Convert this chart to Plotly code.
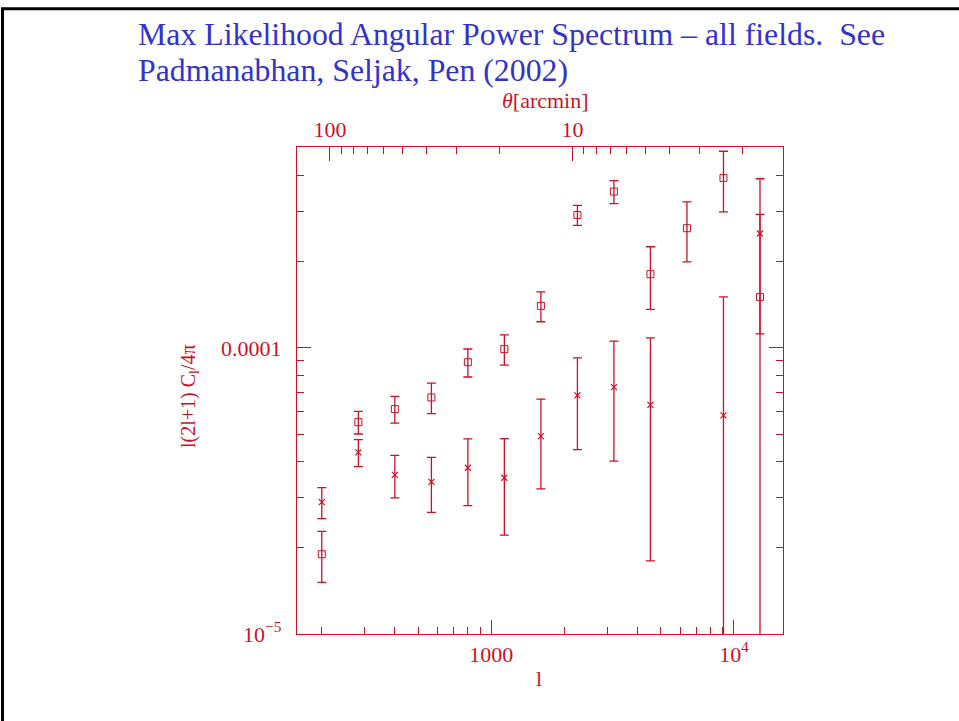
import math
import plotly.graph_objects as go

# ---- data ----
ell = [200, 283, 400, 566, 800, 1131, 1600, 2263, 3200, 4525, 6400, 9051, 12800]
sq_val = [1.90e-5, 5.50e-5, 6.11e-5, 6.71e-5, 8.91e-5, 9.90e-5, 1.402e-4,
          2.914e-4, 3.518e-4, 1.809e-4, 2.619e-4, 3.925e-4, 1.507e-4]
sq_err = [0.385e-5, 0.50e-5, 0.655e-5, 0.82e-5, 1.0e-5, 1.2e-5, 1.68e-5,
          2.34e-5, 3.25e-5, 4.47e-5, 6.2e-5, 9.4e-5, 1.42e-4]
cr_val = [2.89e-5, 4.31e-5, 3.60e-5, 3.40e-5, 3.81e-5, 3.515e-5, 4.915e-5,
          6.82e-5, 7.29e-5, 6.32e-5, None, 5.81e-5, 2.51e-4]
cr_err = [0.36e-5, 0.465e-5, 0.61e-5, 0.74e-5, 1.0e-5, 1.3e-5, 1.70e-5,
          2.41e-5, 3.27e-5, 4.52e-5, None, 9.26e-5, 1.39e-4]

x_tickvals = [1000, 10000]
x_ticktext = ["1000", "10<sup>4</sup>"]
x_minor = [200, 300, 400, 500, 600, 700, 800, 900,
           2000, 3000, 4000, 5000, 6000, 7000, 8000, 9000]
y_tickvals = [1e-5, 1e-4]
y_ticktext = ["10<sup>\u22125</sup>", "0.0001"]
y_minor = [2e-5, 3e-5, 4e-5, 5e-5, 6e-5, 7e-5, 8e-5, 9e-5,
           2e-4, 3e-4, 4e-4, 5e-4]
t_tickvals = [100, 10]
t_ticktext = ["100", "10"]
t_minor = [90, 80, 70, 60, 50, 40, 30, 20, 9, 8, 7, 6, 5, 4, 3, 2]
THETA_CONST = 21600.0  # theta[arcmin] = 21600 / l

RED = "#CC1126"
BLUE = "#3333CC"
FONT = "Liberation Serif"

W, H = 959, 721
ML, MR, MT, MB = 297, 176, 147, 87


def px(x):
    return (x - ML) / (W - ML - MR)


def py(y):
    return (H - MB - y) / (H - MT - MB)


xr = [2.1988, 4.2021]
yr = [-5.0, -3.298]
lc = math.log10(THETA_CONST)
tr = [lc - xr[0], lc - xr[1]]

fig = go.Figure()

fig.add_trace(go.Scatter(
    x=ell, y=sq_val, mode="markers",
    marker=dict(symbol="square-open", size=7, color=RED, line=dict(width=1, color=RED)),
    error_y=dict(type="data", array=sq_err, symmetric=True, color=RED, thickness=1.3, width=4.5),
    showlegend=False, hoverinfo="skip"))

fig.add_trace(go.Scatter(
    x=ell, y=cr_val, mode="markers",
    marker=dict(symbol="x-thin-open", size=6, color=RED, line=dict(width=1.2, color=RED)),
    error_y=dict(type="data", array=cr_err, symmetric=True, color=RED, thickness=1.3, width=4.5),
    showlegend=False, hoverinfo="skip"))

# invisible trace tying the top theta axis to the data
fig.add_trace(go.Scatter(
    x=[THETA_CONST / l for l in ell], y=sq_val, xaxis="x2", mode="markers",
    marker=dict(opacity=0), showlegend=False, hoverinfo="skip"))

tickfont = dict(family=FONT, size=22, color=RED)

fig.update_layout(
    width=W, height=H,
    margin=dict(l=ML, r=MR, t=MT, b=MB, pad=0),
    paper_bgcolor="white", plot_bgcolor="white",
    font=dict(family=FONT, color=RED),
    xaxis=dict(type="log", range=xr, showgrid=False, zeroline=False,
               showline=True, linecolor=RED, linewidth=1.3, mirror=False,
               ticks="inside", ticklen=14, tickwidth=1.2, tickcolor=RED,
               tickmode="array", tickvals=x_tickvals, ticktext=x_ticktext,
               tickfont=tickfont, ticklabelstandoff=0,
               minor=dict(ticks="inside", ticklen=7, tickwidth=1.1, tickcolor=RED,
                          tickmode="array", tickvals=x_minor, showgrid=False)),
    xaxis2=dict(type="log", range=tr, overlaying="x", side="top", anchor="y",
                showgrid=False, zeroline=False,
                showline=True, linecolor=RED, linewidth=1.3,
                ticks="inside", ticklen=14, tickwidth=1.2, tickcolor=RED,
                tickmode="array", tickvals=t_tickvals, ticktext=t_ticktext,
                tickfont=tickfont, ticklabelstandoff=0,
                minor=dict(ticks="inside", ticklen=7, tickwidth=1.1, tickcolor=RED,
                           tickmode="array", tickvals=t_minor, showgrid=False)),
    yaxis=dict(type="log", range=yr, showgrid=False, zeroline=False,
               showline=True, linecolor=RED, linewidth=1.3, mirror="ticks",
               ticks="inside", ticklen=14, tickwidth=1.2, tickcolor=RED,
               tickmode="array", tickvals=y_tickvals, ticktext=y_ticktext,
               tickfont=tickfont, ticklabelstandoff=10,
               minor=dict(ticks="inside", ticklen=7, tickwidth=1.1, tickcolor=RED,
                          tickmode="array", tickvals=y_minor, showgrid=False)),
)

annos = [
    dict(text="Max Likelihood Angular Power Spectrum \u2013 all fields.&nbsp; See",
         x=px(135.5), y=py(35), xanchor="left", yanchor="middle",
         font=dict(family=FONT, size=31.8, color=BLUE)),
    dict(text="Padmanabhan, Seljak, Pen (2002)",
         x=px(135.5), y=py(71), xanchor="left", yanchor="middle",
         font=dict(family=FONT, size=31.8, color=BLUE)),
    dict(text="<i>\u03b8</i>[arcmin]", x=px(545), y=py(100),
         xanchor="center", yanchor="middle", font=dict(family=FONT, size=22, color=RED)),
    dict(text="l", x=px(539), y=py(678),
         xanchor="center", yanchor="middle", font=dict(family=FONT, size=22, color=RED)),
    dict(text="l(2l+1) C<sub>l</sub>/4\u03c0", x=px(189), y=py(396), textangle=-90,
         xanchor="center", yanchor="middle", font=dict(family=FONT, size=20, color=RED)),
]
for a in annos:
    a.update(xref="paper", yref="paper", showarrow=False)
fig.update_layout(annotations=annos)

# slide border (left and top edges)
fig.update_layout(shapes=[
    dict(type="line", xref="paper", yref="paper",
         x0=px(2.5), x1=px(2.5), y0=py(8), y1=py(H + 5),
         line=dict(color="black", width=3)),
    dict(type="line", xref="paper", yref="paper",
         x0=px(1), x1=px(W + 5), y0=py(8.7), y1=py(8.7),
         line=dict(color="black", width=3)),
])

fig.write_html("out.html")
